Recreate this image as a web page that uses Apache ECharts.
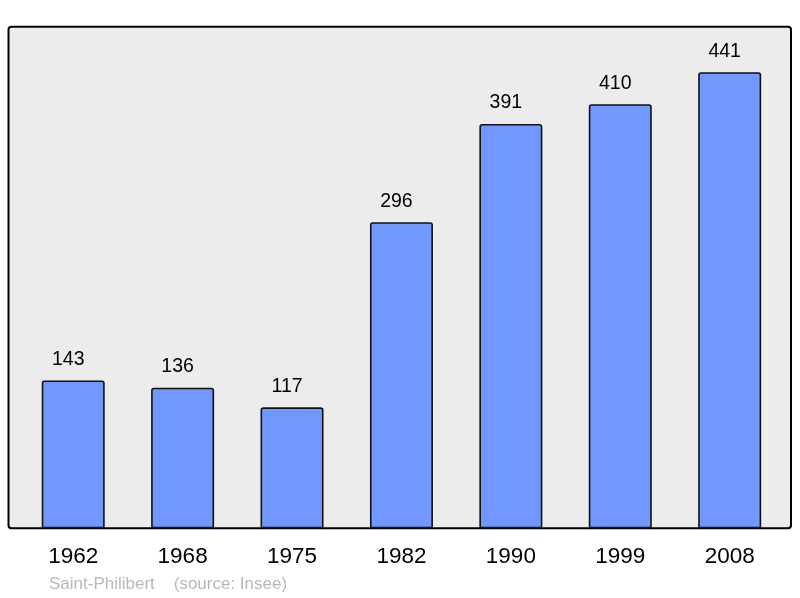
<!DOCTYPE html>
<html lang="fr">
<head>
    <meta charset="UTF-8">
    <script src="https://cdn.jsdelivr.net/npm/echarts@6/dist/echarts.min.js"></script>
    <title>Saint-Philibert</title>
    <style>
        html, body { margin: 0; padding: 0; background: #fff; }
        #container { width: 800px; height: 598px; }
    </style>
</head>
<body>
<div id="container"></div>
<script type="application/javascript">
    const years = ['1962', '1968', '1975', '1982', '1990', '1999', '2008'];
    const population = [143, 136, 117, 296, 391, 410, 441];
    const footnote = 'Saint-Philibert    (source: Insee)';

    const myChart = echarts.init(document.getElementById('container'), null, {renderer: 'canvas'});

    const option = {
        animation: false,
        textStyle: {fontFamily: 'Liberation Sans, Arial, sans-serif'},
        grid: {left: 18.5, right: 15.6, top: 26.7, bottom: 69.7},
        graphic: [
            {
                type: 'rect',
                z: -10,
                shape: {x: 8.5, y: 26.7, width: 782.5, height: 501.6, r: 3},
                style: {fill: '#ececec', stroke: '#000', lineWidth: 2}
            },
            {
                type: 'text',
                left: 49,
                top: 576,
                style: {
                    text: footnote,
                    fill: '#b8b8b8',
                    font: '17px "Liberation Sans", Arial, sans-serif'
                }
            }
        ],
        xAxis: {
            type: 'category',
            data: years,
            axisLine: {show: false},
            axisTick: {show: false},
            axisLabel: {color: '#000', fontSize: 22.5, margin: 17}
        },
        yAxis: {
            type: 'value',
            min: 0,
            max: 485,
            show: false,
            splitLine: {show: false}
        },
        series: [
            {
                type: 'bar',
                data: population,
                barWidth: 63,
                itemStyle: {
                    color: '#7098ff',
                    borderColor: '#111',
                    borderWidth: 1.6,
                    borderRadius: [2, 2, 0, 0]
                },
                label: {
                    show: true,
                    position: 'top',
                    distance: 11,
                    offset: [-5, 0],
                    color: '#000',
                    fontSize: 19.5
                }
            }
        ]
    };
    myChart.setOption(option);
</script>
</body>
</html>
